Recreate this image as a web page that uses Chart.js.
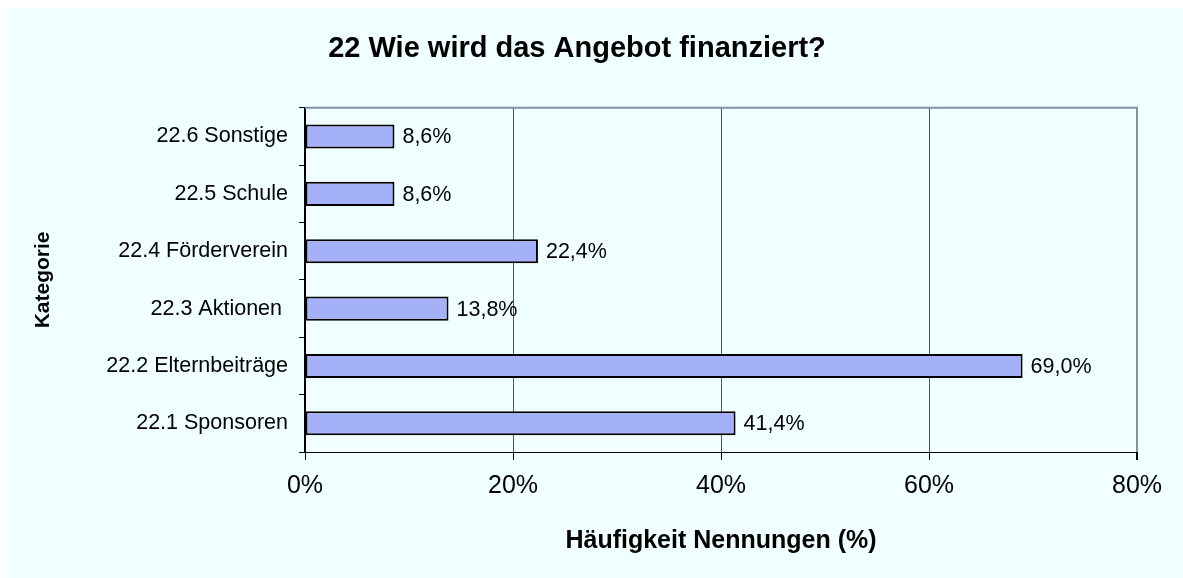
<!DOCTYPE html>
<html>
<head>
<meta charset="utf-8">
<script src="https://cdn.jsdelivr.net/npm/chart.js@4/dist/chart.umd.min.js"></script>
<style>
html,body{margin:0;padding:0;background:#ffffff;}
#wrap{position:absolute;left:0;top:0;width:1183px;height:578px;}
</style>
</head>
<body>
<div id="wrap"><canvas id="c" width="1183" height="578"></canvas></div>
<script>
const titleText = '22 Wie wird das Angebot finanziert?';
const categories = ['22.6 Sonstige', '22.5 Schule', '22.4 Förderverein', '22.3 Aktionen ', '22.2 Elternbeiträge', '22.1 Sponsoren'];
const values = [8.6, 8.6, 22.4, 13.8, 69.0, 41.4];
const xTicks = [0, 20, 40, 60, 80];
const xTitle = 'Häufigkeit Nennungen (%)';
const yTitle = 'Kategorie';

const FONT = "'Liberation Sans', Arial, sans-serif";

const bgPlugin = {
  id: 'bg',
  beforeDraw(chart) {
    const ctx = chart.ctx;
    ctx.save();
    ctx.fillStyle = '#F0FFFF';
    ctx.fillRect(7, 8, chart.width - 7, chart.height - 8);
    ctx.restore();
  },
  afterDraw(chart) {
    const {ctx, chartArea} = chart;
    ctx.save();
    ctx.strokeStyle = '#8290A8';
    ctx.lineWidth = 2;
    ctx.beginPath();
    ctx.moveTo(chartArea.left, chartArea.top);
    ctx.lineTo(chartArea.right + 1, chartArea.top);
    ctx.stroke();
    ctx.restore();
  }
};

const labelPlugin = {
  id: 'vlabels',
  afterDatasetsDraw(chart) {
    const ctx = chart.ctx;
    const meta = chart.getDatasetMeta(0);
    ctx.save();
    ctx.font = '21.5px ' + FONT;
    ctx.fillStyle = '#000';
    ctx.textAlign = 'left';
    ctx.textBaseline = 'middle';
    meta.data.forEach((bar, i) => {
      const txt = values[i].toFixed(1).replace('.', ',') + '%';
      ctx.fillText(txt, bar.x + 8, bar.y + 1);
    });
    ctx.restore();
  }
};

new Chart(document.getElementById('c'), {
  type: 'bar',
  data: {
    labels: categories,
    datasets: [{
      data: values,
      backgroundColor: '#A4B0F8',
      borderColor: '#000000',
      borderWidth: 2,
      borderSkipped: false,
      barPercentage: 0.42,
      categoryPercentage: 1.0
    }]
  },
  options: {
    indexAxis: 'y',
    responsive: false,
    animation: false,
    devicePixelRatio: 1,
    layout: { padding: { left: 17, right: 46, top: 0, bottom: 0 } },
    plugins: {
      legend: { display: false },
      tooltip: { enabled: false },
      title: {
        display: true,
        text: titleText,
        color: '#000',
        font: { family: FONT, size: 29, weight: 'bold' },
        padding: { top: 32, bottom: 41 }
      }
    },
    scales: {
      x: {
        min: 0,
        max: 80,
        afterBuildTicks(scale) { scale.ticks = xTicks.map(v => ({ value: v })); },
        afterFit(scale) { scale.height = 126; },
        ticks: {
          color: '#000',
          font: { family: FONT, size: 25 },
          padding: 11,
          callback: (v) => v + '%'
        },
        grid: {
          color: (c) => {
            const v = c.tick ? c.tick.value : 0;
            if (v === 0) return 'rgba(0,0,0,0)';
            if (v === 80) return '#8290A8';
            return '#555555';
          },
          lineWidth: (c) => (c.tick && c.tick.value === 80 ? 2 : 1),
          tickColor: '#000',
          tickLength: 8,
          drawTicks: true
        },
        border: { display: true, color: '#000', width: 1 },
        title: {
          display: true,
          text: xTitle,
          color: '#000',
          font: { family: FONT, size: 25, weight: 'bold' },
          padding: { top: 0, bottom: 22 }
        }
      },
      y: {
        offset: true,
        afterFit(scale) { scale.width = 288; },
        ticks: {
          color: '#000',
          font: { family: FONT, size: 21.5 },
          padding: 11
        },
        grid: {
          offset: true,
          drawOnChartArea: false,
          drawTicks: true,
          tickLength: 6,
          color: '#000',
          tickColor: '#000'
        },
        border: { display: true, color: '#000', width: 2 },
        title: {
          display: true,
          text: yTitle,
          color: '#000',
          font: { family: FONT, size: 21, weight: 'bold' },
          padding: { top: 14, bottom: 0 }
        }
      }
    }
  },
  plugins: [bgPlugin, labelPlugin]
});
</script>
</body>
</html>
